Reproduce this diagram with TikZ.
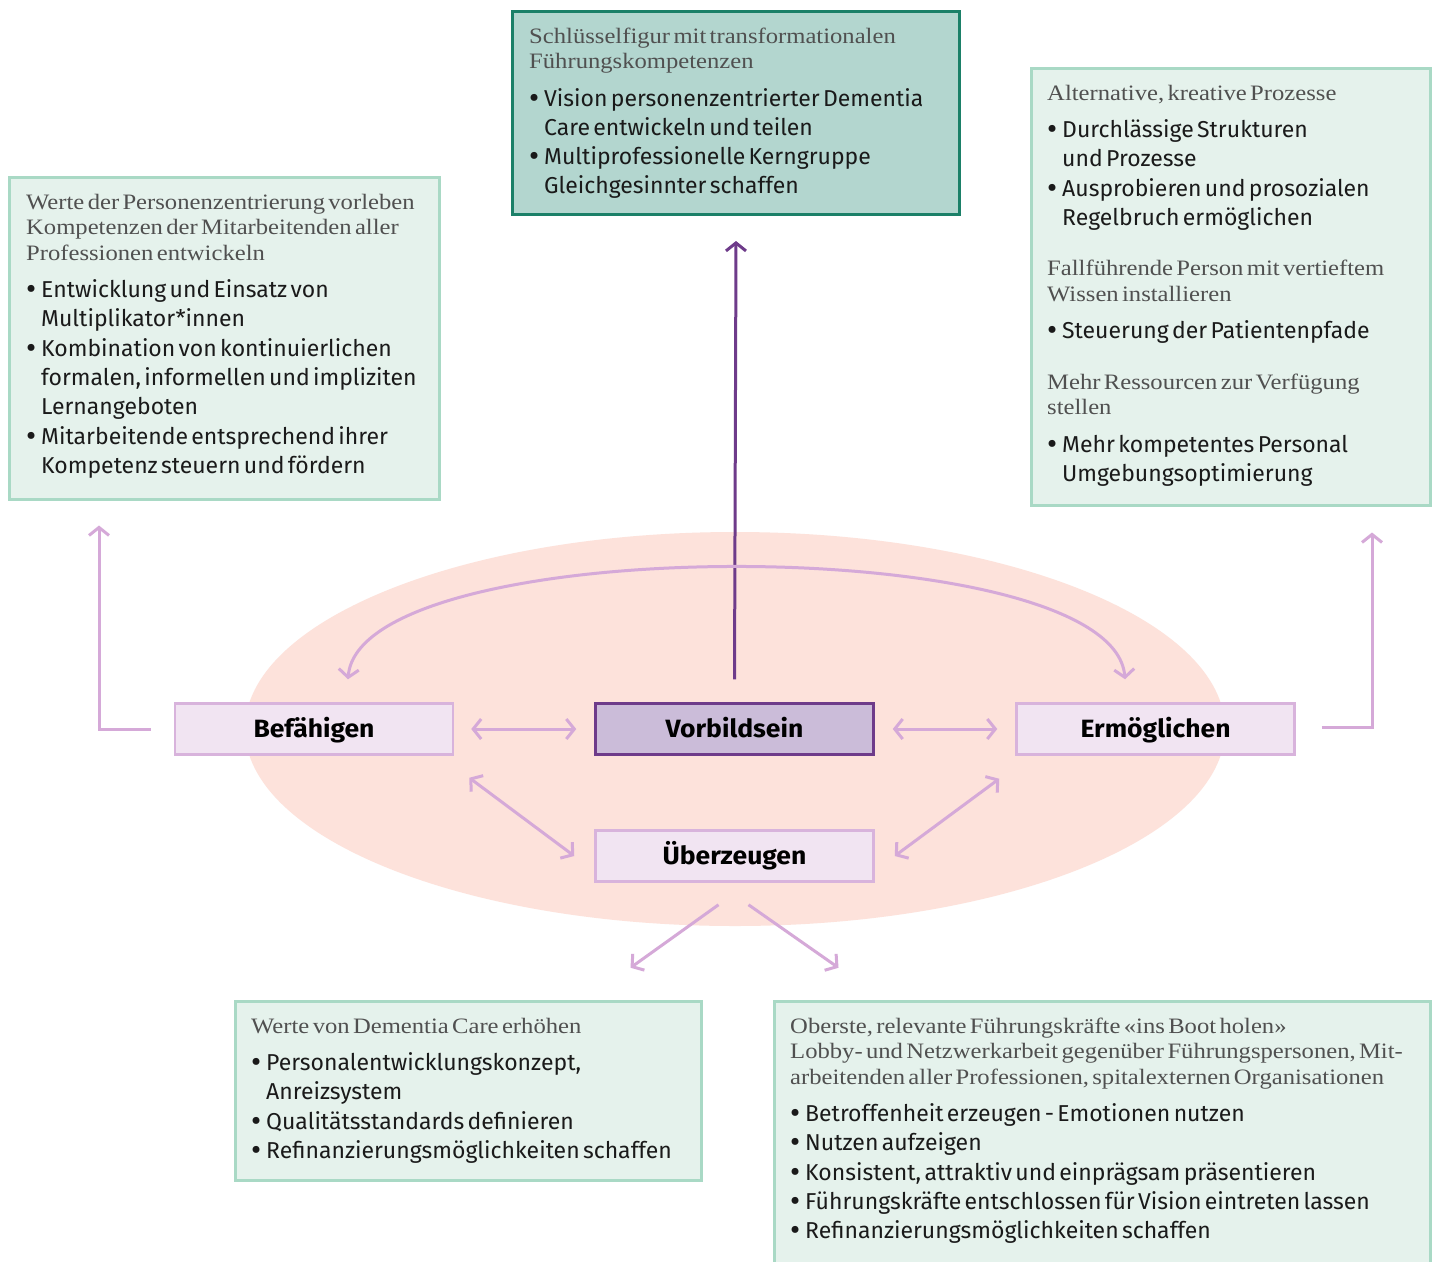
\documentclass[tikz,border=0pt]{standalone}
\usepackage{fontspec}
\usepackage{graphicx}
\setmainfont[WordSpace=1.25]{Fira Sans}
\newfontfamily\hdfont[FakeStretch=1.12,WordSpace=1.45]{Liberation Serif}
\newfontfamily\lblfont[FakeStretch=1.06]{Fira Sans}
\usetikzlibrary{arrows.meta}
\definecolor{topfill}{HTML}{B3D6CF}
\definecolor{topdraw}{HTML}{1B8068}
\definecolor{gfill}{HTML}{E5F2EC}
\definecolor{gdraw}{HTML}{A9D9C5}
\definecolor{ellfill}{HTML}{FDE2DB}
\definecolor{pfill}{HTML}{F1E4F2}
\definecolor{pdraw}{HTML}{D8B3DC}
\definecolor{vfill}{HTML}{CBBCD9}
\definecolor{vdraw}{HTML}{6E3B8A}
\definecolor{arrcol}{HTML}{D5A9D8}
\definecolor{hdgray}{HTML}{505050}
\definecolor{txtblack}{HTML}{1A1A1A}
\newcommand\hd[1]{{\hdfont\fontsize{22}{25.5}\selectfont\color{hdgray}\noindent\rule{0pt}{17pt}#1\par}}
\newcommand\bl[1]{{\fontsize{23}{29.3}\selectfont\color{txtblack}\hangindent=15pt\hangafter=1\noindent\makebox[15pt][l]{\raisebox{-2pt}{\scalebox{1.35}{•}}}#1\par}}
\tikzset{
  gbox/.style={draw=gdraw, fill=gfill, line width=2.5pt, anchor=north west, inner sep=0pt},
  tbox/.style={draw=topdraw, fill=topfill, line width=3pt, anchor=north west, inner sep=0pt},
  txt/.style={anchor=north west, inner sep=0pt, align=left},
  lbl/.style={draw=pdraw, fill=pfill, line width=2.5pt, minimum width=278pt, minimum height=51pt, inner sep=0pt, text height=22pt, text depth=5pt, font=\lblfont\fontsize{25}{28}\selectfont\bfseries},
  vlbl/.style={lbl, draw=vdraw, fill=vfill},
  arr/.style={draw=arrcol, line width=3pt, {Straight Barb[length=8pt,width=20pt]}-{Straight Barb[length=8pt,width=20pt]}},
  arrone/.style={draw=arrcol, line width=3pt, -{Straight Barb[length=8pt,width=20pt]}},
  arrv/.style={draw=vdraw, line width=3pt, -{Straight Barb[length=8pt,width=20pt]}}
}
\begin{document}
\begin{tikzpicture}[x=1pt,y=1pt]
\useasboundingbox (0,0) rectangle (1437,-1261);
\clip (0,0) rectangle (1437,-1261);
\fill[white] (0,0) rectangle (1437,-1261);
% ellipse
\fill[ellfill] (735,-729) ellipse [x radius=490pt, y radius=197pt];
% boxes
\node[tbox, minimum width=447pt, minimum height=203pt] (top) at (511,-10) {};
\node[gbox, minimum width=430pt, minimum height=322pt] (lbox) at (8,-176) {};
\node[gbox, minimum width=399pt, minimum height=437pt] (rbox) at (1030,-67) {};
\node[gbox, minimum width=466pt, minimum height=179pt] (blbox) at (234,-1000) {};
\node[gbox, minimum width=656pt, minimum height=280pt] (brbox) at (773,-1000) {};
% texts
\node[txt, text width=425pt] (toptxt) at (529,-26) {%
\hd{Schlüsselfigur mit transformationalen\newline Führungskompetenzen}
\vspace{8pt}
\bl{Vision personenzentrierter Dementia\newline Care entwickeln und teilen}
\bl{Multiprofessionelle Kerngruppe\newline Gleichgesinnter schaffen}};
\node[txt, text width=410pt] (ltxt) at (26,-192) {%
\hd{Werte der Personenzentrierung vorleben\newline Kompetenzen der Mitarbeitenden aller\newline Professionen entwickeln}
\vspace{8pt}
\bl{Entwicklung und Einsatz von\newline Multiplikator*innen}
\bl{Kombination von kontinuierlichen\newline formalen, informellen und impliziten\newline Lernangeboten}
\bl{Mitarbeitende entsprechend ihrer\newline Kompetenz steuern und fördern}};
\node[txt, text width=385pt] (rtxt) at (1047,-83) {%
\hd{Alternative, kreative Prozesse}
\vspace{8pt}
\bl{Durchlässige Strukturen\newline und Prozesse}
\bl{Ausprobieren und prosozialen\newline Regelbruch ermöglichen}
\vspace{25pt}
\hd{Fallführende Person mit vertieftem\newline Wissen installieren}
\vspace{8pt}
\bl{Steuerung der Patientenpfade}
\vspace{25pt}
\hd{Mehr Ressourcen zur Verfügung\newline stellen}
\vspace{8pt}
\bl{Mehr kompetentes Personal\newline Umgebungsoptimierung}};
\node[txt, text width=445pt] (bltxt) at (251,-1016) {%
\hd{Werte von Dementia Care erhöhen}
\vspace{8pt}
\bl{Personalentwicklungskonzept,\newline Anreizsystem}
\bl{Qualitätsstandards definieren}
\bl{Refinanzierungsmöglichkeiten schaffen}};
\node[txt, text width=645pt] (brtxt) at (790,-1016) {%
\hd{Oberste, relevante Führungskräfte «ins Boot holen»\newline Lobby- und Netzwerkarbeit gegenüber Führungspersonen, Mit-\newline arbeitenden aller Professionen, spitalexternen Organisationen}
\vspace{8pt}
\bl{Betroffenheit erzeugen - Emotionen nutzen}
\bl{Nutzen aufzeigen}
\bl{Konsistent, attraktiv und einprägsam präsentieren}
\bl{Führungskräfte entschlossen für Vision eintreten lassen}
\bl{Refinanzierungsmöglichkeiten schaffen}};
% central nodes
\node[lbl] (bef) at (314,-729) {Befähigen};
\node[vlbl] (vorb) at (734.5,-729) {Vorbildsein};
\node[lbl] (erm) at (1155.5,-729) {Ermöglichen};
\node[lbl] (ueb) at (734.5,-856) {Überzeugen};
% connectors
\draw[arrv] ([yshift=23pt]vorb.north) -- ([yshift=-25pt]top.south);
\draw[arr] ([xshift=17pt]bef.east) -- ([xshift=-18pt]vorb.west);
\draw[arr] ([xshift=18pt]vorb.east) -- ([xshift=-18pt]erm.west);
\draw[arr] ([xshift=15pt,yshift=-22pt]bef.south east) -- ([xshift=-20pt]ueb.west);
\draw[arr] ([xshift=-16pt,yshift=-23pt]erm.south west) -- ([xshift=20pt]ueb.east);
\draw[arr] ([xshift=34pt,yshift=23pt]bef.north) .. controls (360,-530) and (1113,-530) .. ([xshift=-30.5pt,yshift=23pt]erm.north);
\draw[arrone] ([xshift=-23pt]bef.west) -| ([xshift=91pt,yshift=-25pt]lbox.south west);
\draw[arrone] ([xshift=26pt,yshift=2pt]erm.east) -| ([xshift=342pt,yshift=-26pt]rbox.south west);
\draw[arrone] ([xshift=-16pt,yshift=-22pt]ueb.south) -- ([xshift=-104pt,yshift=-85pt]ueb.south);
\draw[arrone] ([xshift=14pt,yshift=-22pt]ueb.south) -- ([xshift=104pt,yshift=-85pt]ueb.south);
\end{tikzpicture}
\end{document}
